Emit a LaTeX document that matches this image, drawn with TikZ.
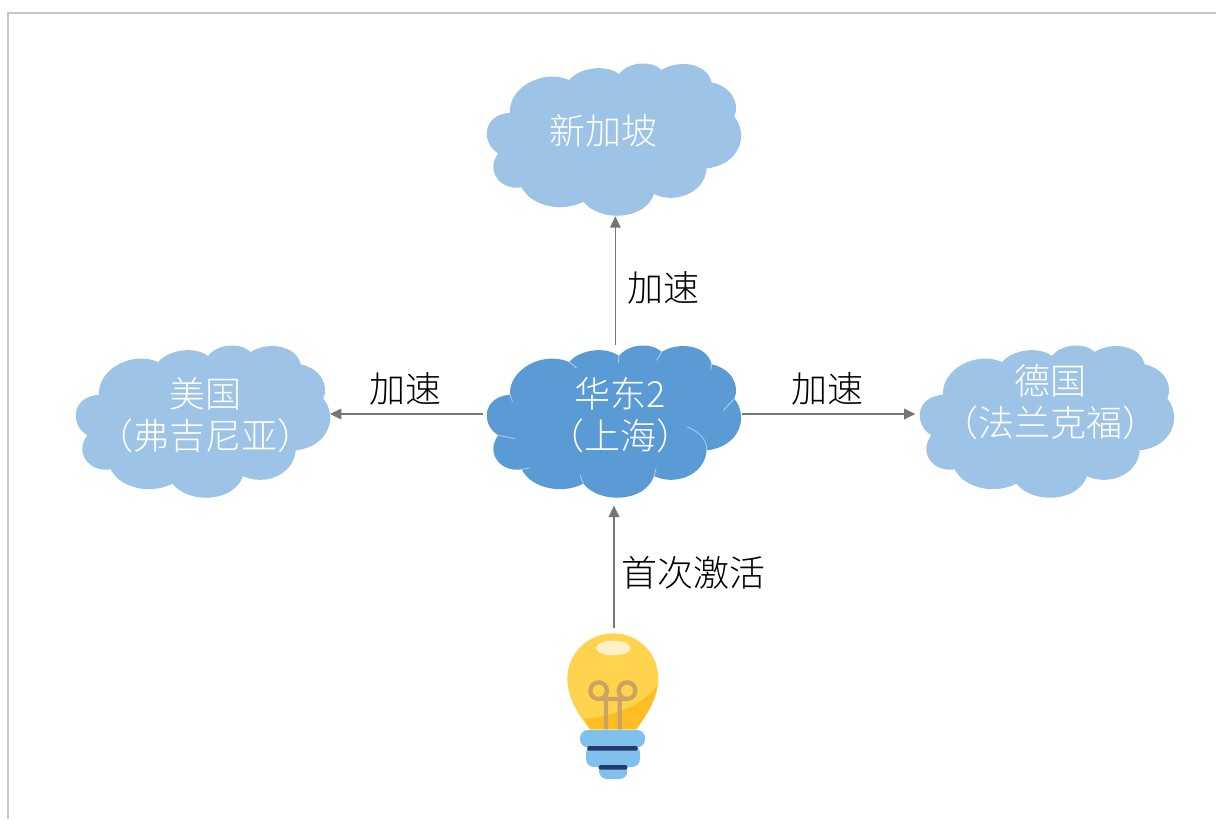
\documentclass[tikz,border=0pt]{standalone}
\usepackage{fontspec}
\setmainfont{Noto Sans CJK SC}
\newfontfamily\lightcjk{Noto Sans CJK SC Light}
\usetikzlibrary{arrows.meta}
\definecolor{cloudlight}{HTML}{9DC3E6}
\definecolor{clouddark}{HTML}{5B9BD5}
\definecolor{seam}{HTML}{A6C8E8}
\definecolor{linkgray}{HTML}{767676}
\tikzset{
  x=0.75pt,y=-0.75pt,
  cloudbox/.style={minimum width=190.5pt,minimum height=114pt,inner sep=0pt,outer sep=0pt},
  bulbbox/.style={minimum width=73.5pt,minimum height=115pt,inner sep=0pt,outer sep=0pt},
  cloudtext/.style={text=white,align=center,inner sep=0pt,font=\lightcjk\fontsize{27}{31.5}\selectfont},
  linktext/.style={text=black,inner sep=0pt,font=\lightcjk\fontsize{27}{31.5}\selectfont},
  link/.style={draw=linkgray,line width=1.05pt,-{Triangle[length=8.5pt,width=8pt]}},
  seamline/.style={draw=seam,line width=0.7pt,line cap=round}
}
\newcommand{\cloudat}[3]{%
  \begin{scope}[shift={(#1,#2)},scale=1/3]
    \fill[#3] (120,188) .. controls (115,115) and (215,55) .. (298,90)
      .. controls (325,55) and (405,40) .. (447,72)
      .. controls (475,35) and (545,30) .. (575,60)
      .. controls (620,30) and (710,35) .. (725,97)
      .. controls (785,110) and (810,160) .. (793,200)
      .. controls (838,255) and (808,345) .. (710,355)
      .. controls (704,432) and (612,462) .. (552,432)
      .. controls (525,512) and (390,517) .. (340,455)
      .. controls (280,487) and (186,472) .. (155,412)
      .. controls (88,422) and (46,360) .. (85,310)
      .. controls (34,280) and (34,195) .. (120,188) -- cycle;
  \end{scope}}
\begin{document}
\begin{tikzpicture}
\useasboundingbox (0,0) rectangle (1216,819);
\draw[draw=black!22,line width=0.8pt] (8,819) -- (8,13) -- (1216,13);
% clouds
\cloudat{470}{50}{cloudlight}
\cloudat{470}{332}{clouddark}
\cloudat{59}{332}{cloudlight}
\cloudat{903}{332}{cloudlight}
\begin{scope}[shift={(470,332)},scale=1/3]
  \draw[seamline] (120,188) -- (127,208);
  \draw[seamline] (298,90) -- (320,108);
  \draw[seamline] (447,72) -- (445,92);
  \draw[seamline] (575,60) -- (560,85);
  \draw[seamline] (725,97) -- (722,112);
  \draw[seamline] (793,200) -- (760,235);
  \draw[seamline] (652,285) .. controls (690,300) and (712,325) .. (710,355);
  \draw[seamline] (552,432) -- (558,410);
  \draw[seamline] (340,455) -- (330,430);
  \draw[seamline] (155,412) -- (178,408);
  \draw[seamline] (85,310) -- (135,320);
\end{scope}
\node[cloudbox] (sg) at (614,139) {};
\node[cloudbox] (sh) at (614,421) {};
\node[cloudbox] (us) at (203,421) {};
\node[cloudbox] (de) at (1047,421) {};
\node[cloudtext] (sgt) at (603,131) {新加坡};
\node[cloudtext] (sht) at (620,415) {华东2\\（上海）};
\node[cloudtext] (ust) at (205,415) {美国\\（弗吉尼亚）};
\node[cloudtext] (det) at (1050,402) {德国\\（法兰克福）};
% bulb
\node[bulbbox] (bulb) at (614,705) {};
\begin{scope}[shift={(550,620)},scale=1/3]
  \fill[color={rgb,255:red,255;green,211;blue,78}] (120,328) .. controls (80,280) and (52,230) .. (52,175)
    .. controls (52,100) and (115,40) .. (190,40)
    .. controls (265,40) and (325,100) .. (325,175)
    .. controls (325,230) and (295,280) .. (258,328) -- cycle;
  \fill[color={rgb,255:red,253;green,190;blue,36}] (103,297) .. controls (190,290) and (290,250) .. (322,195)
    .. controls (315,245) and (290,285) .. (258,328) -- (120,328) -- cycle;
  \fill[color={rgb,255:red,255;green,241;blue,198}] (190,84) ellipse [x radius=52,y radius=22];
  \draw[color={rgb,255:red,202;green,164;blue,96},line width=3.2pt]
    (146,212) circle [radius=25] (231,212) circle [radius=25]
    (168,222) -- (168,328) (209,222) -- (209,328) (146,237) -- (231,237);
  \fill[color={rgb,255:red,127;green,192;blue,236},rounded corners=6pt] (90,330) rectangle (285,382);
  \fill[color={rgb,255:red,127;green,192;blue,236},rounded corners=6pt] (108,375) rectangle (270,441);
  \fill[color={rgb,255:red,127;green,192;blue,236},rounded corners=6pt] (147,430) rectangle (232,477);
  \fill[color={rgb,255:red,40;green,56;blue,108},rounded corners=1pt] (112,378) rectangle (263,392);
  \fill[color={rgb,255:red,40;green,56;blue,108},rounded corners=1pt] (146,435) rectangle (232,449);
\end{scope}
% connectors
\draw[link] ([xshift=1pt]sh.north) -- ([xshift=1pt,yshift=-1pt]sg.south);
\draw[link] ([yshift=5.25pt,xshift=-3pt]sh.west) -- ([yshift=5.25pt]us.east);
\draw[link] ([yshift=5.25pt,xshift=1pt]sh.east) -- ([yshift=5.25pt,xshift=-3.5pt]de.west);
\draw[link] (bulb.north) -- ([yshift=-6.5pt]sh.south);
\node[linktext] (l1) at (663,288) {加速};
\node[linktext] (l2) at (405,389) {加速};
\node[linktext] (l3) at (827,389) {加速};
\node[linktext] (l4) at (693,573) {首次激活};
\end{tikzpicture}
\end{document}
